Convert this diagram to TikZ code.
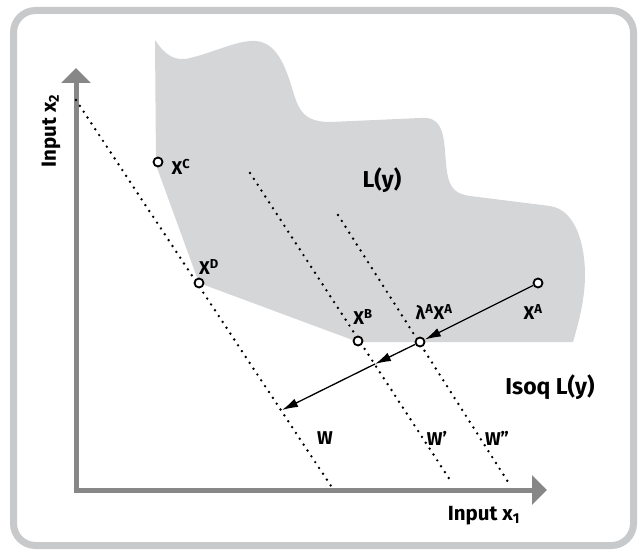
\documentclass[tikz,border=0pt]{standalone}
\usepackage{fontspec}
\setmainfont{Fira Sans}
\usepackage{xcolor}
\usetikzlibrary{arrows.meta, calc}

\definecolor{framegray}{HTML}{C8C9CB}
\definecolor{axisgray}{HTML}{878787}
\definecolor{setgray}{HTML}{D5D6D8}

\begin{document}
\begin{tikzpicture}[
    x=1pt, y=-1pt,
    font=\bfseries\fontsize{18.5}{18.5}\selectfont,
    axis/.style={axisgray, line width=5pt, -{Triangle[length=15pt, width=29pt]}},
    axislabel/.style={font=\bfseries\fontsize{20.5}{20.5}\selectfont},
    isocost/.style={line width=2.7pt, dash pattern=on 0pt off 7pt, line cap=round},
    pt/.style={circle, draw, fill=white, line width=1.8pt, inner sep=0pt, minimum size=9pt},
    arr/.style={line width=1.3pt, -{Latex[length=16pt, width=9pt]}},
    big/.style={font=\bfseries\fontsize{23}{23}\selectfont}
]
\useasboundingbox (0,0) rectangle (639,553);
\draw[framegray, line width=7pt, rounded corners=22pt] (13.5,10.5) rectangle (633.5,545.5);

% input requirement set L(y)
\fill[setgray] (155,40) .. controls (165,55) and (175,62) .. (190,58)
    .. controls (215,52) and (238,40) .. (255,41)
    .. controls (276,42) and (285,65) .. (292,88)
    .. controls (298,108) and (302,122) .. (330,122)
    -- (420,118)
    .. controls (440,116) and (443,130) .. (445,150)
    .. controls (447,180) and (448,193) .. (470,196)
    -- (550,206)
    .. controls (576,210) and (585,245) .. (585,275)
    .. controls (585,300) and (578,325) .. (573,342)
    -- (358,342) -- (199,283) -- (156,165) -- cycle;

% axes
\coordinate (o) at (76,490);
\coordinate (ytop) at (76,68);
\coordinate (xend) at (547,490);
\draw[axis] (o) -- (ytop);
\draw[axis] ($(o)+(-2.5,0)$) -- (xend);
\node[axislabel, rotate=90] (ylab) at (51,131) {Input x\textsubscript{2}};
\node[axislabel] (xlab) at (484,516) {Input x\textsubscript{1}};

% isocost lines
\coordinate (w1) at (76,100);   \coordinate (w2) at (333,489);
\coordinate (v1) at (250,173);  \coordinate (v2) at (452,483);
\coordinate (u1) at (338,215);  \coordinate (u2) at (510,485);
\draw[isocost] (w1) -- (w2);
\draw[isocost] (v1) -- (v2);
\draw[isocost] (u1) -- (u2);
\node (wlab) at (325,438) {W};
\node (wplab) at (437,438) {W'};
\node (wpplab) at (497,438) {W''};

% input bundles
\node[pt] (xc) at (158,162) {};
\node[pt] (xd) at (199,283) {};
\node[pt] (xb) at (358,341) {};
\node[pt] (lam) at (420,342) {};
\node[pt] (xa) at (538,283) {};
\node (xclab) at (181,167) {X\textsuperscript{C}};
\node (xdlab) at (209,267) {X\textsuperscript{D}};
\node (xblab) at (363,317) {X\textsuperscript{B}};
\node (lamlab) at (434,312) {λ\textsuperscript{A}X\textsuperscript{A}};
\node (xalab) at (533,312) {X\textsuperscript{A}};

\node[big] (ly) at (382,180) {L(y)};
\node[big] (isoq) at (550,387) {Isoq L(y)};

% radial contraction and cost reduction
\coordinate (mid) at (375,364);
\coordinate (wend) at (282,410);
\draw[arr] (xa) -- (lam);
\draw[arr] (lam) -- (mid);
\draw[arr] (mid) -- (wend);
\end{tikzpicture}
\end{document}
